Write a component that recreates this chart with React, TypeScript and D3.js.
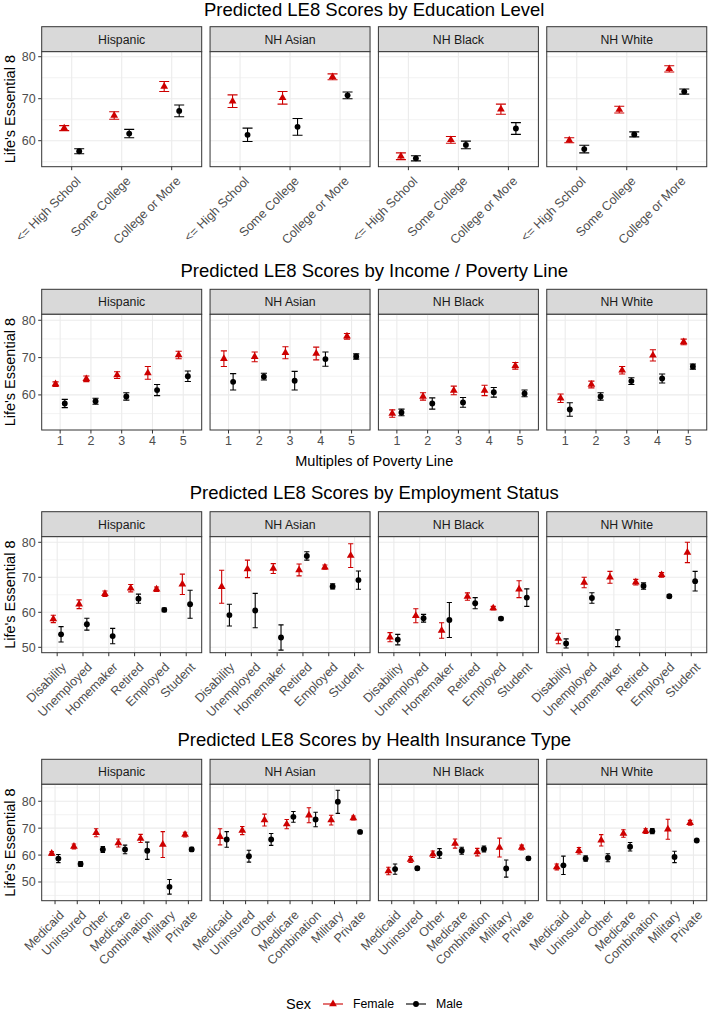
import React from "react";
import * as d3 from "d3";

// ---------- data ----------
const groups = ["Hispanic", "NH Asian", "NH Black", "NH White"];
const sexLabels = ["Female", "Male"];

const eduCats = ["<= High School", "Some College", "College or More"];
const eduFemale = [[63.0, 66.0, 72.9], [69.4, 70.2, 75.2], [56.3, 60.2, 67.5], [60.1, 67.4, 77.1]];
const eduFemaleErr = [[0.6, 0.9, 1.2], [1.5, 1.5, 0.7], [0.8, 0.8, 1.2], [0.6, 0.8, 0.75]];
const eduMale = [[57.5, 61.7, 67.1], [61.4, 63.3, 70.8], [55.8, 59.0, 62.9], [58.0, 61.5, 71.7]];
const eduMaleErr = [[0.6, 1.0, 1.4], [1.6, 2.0, 0.8], [0.6, 0.9, 1.4], [0.9, 0.6, 0.6]];

const incCats = ["1", "2", "3", "4", "5"];
const incFemale = [[62.9, 64.3, 65.3, 65.9, 70.7], [69.7, 70.2, 71.3, 71.1, 75.7], [55.0, 59.6, 61.2, 61.2, 67.8], [59.1, 62.8, 66.6, 70.6, 74.2]];
const incFemaleErr = [[0.6, 0.75, 0.9, 1.7, 1.0], [2.1, 1.3, 1.6, 1.7, 0.75], [1.0, 1.0, 1.15, 1.4, 0.9], [1.15, 0.9, 1.0, 1.5, 0.75]];
const incMale = [[57.7, 58.3, 59.6, 61.3, 65.0], [63.5, 64.9, 63.8, 69.6, 70.3], [55.3, 57.7, 58.0, 60.7, 60.4], [56.1, 59.6, 63.7, 64.4, 67.6]];
const incMaleErr = [[1.1, 0.8, 1.0, 1.5, 1.4], [2.2, 0.9, 2.5, 1.9, 0.7], [0.9, 1.5, 1.3, 1.3, 0.9], [1.8, 1.0, 0.9, 1.2, 0.7]];

const empCats = ["Disability", "Unemployed", "Homemaker", "Retired", "Employed", "Student"];
const empFemale = [[58.1, 62.3, 65.3, 66.9, 66.6, 68.0], [67.3, 72.4, 72.5, 72.1, 72.9, 76.2], [52.9, 59.0, 54.8, 64.5, 61.2, 66.6], [52.5, 68.5, 70.0, 68.6, 70.7, 77.1]];
const empFemaleErr = [[1.05, 1.25, 0.8, 1.05, 0.65, 2.9], [4.7, 2.5, 1.4, 1.7, 0.6, 3.4], [1.3, 2.0, 2.2, 1.05, 0.5, 2.4], [1.5, 1.5, 1.7, 0.8, 0.65, 2.9]];
const empMale = [[53.7, 56.6, 53.2, 63.9, 60.7, 62.3], [59.2, 60.5, 52.8, 76.1, 67.4, 69.2], [52.2, 58.3, 57.8, 62.6, 58.2, 64.2], [51.1, 64.1, 52.6, 67.5, 64.6, 68.9]];
const empMaleErr = [[2.2, 1.7, 2.2, 1.3, 0.55, 4.0], [3.1, 4.9, 3.6, 1.2, 0.75, 2.6], [1.5, 1.1, 5.0, 1.6, 0.4, 2.5], [1.3, 1.5, 2.4, 0.9, 0.4, 2.8]];

const insCats = ["Medicaid", "Uninsured", "Other", "Medicare", "Combination", "Military", "Private"];
const insFemale = [[60.6, 63.2, 68.3, 64.5, 66.2, 63.9, 67.6], [66.8, 69.1, 73.0, 71.5, 74.8, 73.0, 73.8], [54.1, 58.4, 60.3, 64.3, 61.1, 62.8, 62.8], [55.6, 61.6, 65.5, 68.0, 68.9, 69.6, 72.0]];
const insFemaleErr = [[0.7, 0.9, 1.5, 1.5, 1.5, 4.8, 0.9], [3.0, 1.5, 2.2, 1.7, 2.8, 1.8, 0.7], [1.4, 1.1, 1.2, 1.7, 1.4, 3.5, 0.9], [1.1, 1.2, 2.1, 1.4, 0.9, 3.7, 0.9]];
const insMale = [[58.7, 56.7, 62.1, 62.1, 61.6, 48.2, 62.1], [65.8, 59.6, 65.8, 74.2, 73.2, 79.8, 68.6], [54.8, 55.1, 60.6, 61.6, 62.3, 55.0, 58.8], [56.2, 58.7, 59.0, 63.1, 68.9, 59.3, 65.4]];
const insMaleErr = [[1.5, 0.9, 1.1, 1.6, 3.2, 2.7, 0.75], [2.9, 2.2, 2.2, 2.0, 2.7, 4.3, 0.5], [1.9, 0.6, 1.8, 1.3, 1.1, 3.2, 0.6], [3.4, 1.0, 1.5, 1.6, 1.0, 2.1, 0.5]];

const titles = [
  "Predicted LE8 Scores by Education Level",
  "Predicted LE8 Scores by Income / Poverty Line",
  "Predicted LE8 Scores by Employment Status",
  "Predicted LE8 Scores by Health Insurance Type",
];
const yTitle = "Life's Essential 8";
const incXTitle = "Multiples of Poverty Line";
const legendTitle = "Sex";

// ---------- layout / style ----------
const W = 709;
const H = 1011;
const FONT = "'Liberation Sans', Arial, sans-serif";
const RED = "#cd0000";
const BLACK = "#000000";
const PANEL_LEFT = 41.7;
const PANEL_W = 160;
const PANEL_GAP = 8.35;
const STRIP_H = 25;
const TICK = 3.5;
const AXIS_FS = 12.5;

type Sec = {
  title: string;
  cats: string[];
  fem: number[][];
  femErr: number[][];
  male: number[][];
  maleErr: number[][];
  titleY: number;
  stripTop: number;
  panelBottom: number;
  yDomain: [number, number];
  yTicks: number[];
  yMinor: number[];
  rotate: boolean;
  xTitle?: string;
};

const sections: Sec[] = [
  { title: titles[0], cats: eduCats, fem: eduFemale, femErr: eduFemaleErr, male: eduMale, maleErr: eduMaleErr,
    titleY: 16, stripTop: 26.7, panelBottom: 166.7, yDomain: [53.81, 81.19], yTicks: [60, 70, 80], yMinor: [55, 65, 75], rotate: true },
  { title: titles[1], cats: incCats, fem: incFemale, femErr: incFemaleErr, male: incMale, maleErr: incMaleErr,
    titleY: 276.5, stripTop: 289.3, panelBottom: 430, yDomain: [50.6, 81.6], yTicks: [60, 70, 80], yMinor: [55, 65, 75], rotate: false, xTitle: incXTitle },
  { title: titles[2], cats: empCats, fem: empFemale, femErr: empFemaleErr, male: empMale, maleErr: empMaleErr,
    titleY: 498.7, stripTop: 511.7, panelBottom: 652.7, yDomain: [48.46, 81.6], yTicks: [50, 60, 70, 80], yMinor: [55, 65, 75], rotate: true },
  { title: titles[3], cats: insCats, fem: insFemale, femErr: insFemaleErr, male: insMale, maleErr: insMaleErr,
    titleY: 746.3, stripTop: 759.3, panelBottom: 900.7, yDomain: [43.05, 86.3], yTicks: [50, 60, 70, 80], yMinor: [45, 55, 65, 75, 85], rotate: true },
];

const triPath = d3.symbol(d3.symbolTriangle, 26)() as string;
const circPath = d3.symbol(d3.symbolCircle, 27)() as string;

function Section({ s, si }: { s: Sec; si: number }) {
  const panelTop = s.stripTop + STRIP_H;
  const y = d3.scaleLinear().domain(s.yDomain).range([s.panelBottom, panelTop]);
  const x = d3.scalePoint<string>().domain(s.cats).range([0, PANEL_W]).padding(0.6);
  const step = x.step();
  const dodge = 0.15 * step;
  const cap = 0.1 * step;
  const areaRight = PANEL_LEFT + 4 * PANEL_W + 3 * PANEL_GAP;
  const centerX = (PANEL_LEFT + areaRight) / 2;
  const panelMid = (panelTop + s.panelBottom) / 2;
  const clipId = `clip-${si}`;

  const series = [
    { vals: s.fem, errs: s.femErr, color: RED, shape: triPath, off: -dodge },
    { vals: s.male, errs: s.maleErr, color: BLACK, shape: circPath, off: dodge },
  ];

  return (
    <g>
      <defs>
        <clipPath id={clipId}>
          <rect x={0} y={panelTop} width={PANEL_W} height={s.panelBottom - panelTop} />
        </clipPath>
      </defs>
      <text x={centerX} y={s.titleY} textAnchor="middle" fontSize={18.5} fill="#000">{s.title}</text>
      <text transform={`translate(14.5,${panelMid}) rotate(-90)`} textAnchor="middle" fontSize={14.5} fill="#000">{yTitle}</text>
      {s.xTitle && (
        <text x={centerX} y={s.panelBottom + 35.5} textAnchor="middle" fontSize={14.5} fill="#000">{s.xTitle}</text>
      )}
      {s.yTicks.map((t) => (
        <g key={`yt${t}`}>
          <line x1={PANEL_LEFT - TICK} x2={PANEL_LEFT} y1={y(t)} y2={y(t)} stroke="#333" strokeWidth={1} />
          <text x={PANEL_LEFT - TICK - 2.5} y={y(t)} dy="0.36em" textAnchor="end" fontSize={AXIS_FS} fill="#4d4d4d">{t}</text>
        </g>
      ))}
      {groups.map((g, gi) => {
        const px = PANEL_LEFT + gi * (PANEL_W + PANEL_GAP);
        return (
          <g key={g} transform={`translate(${px},0)`}>
            <rect x={0} y={s.stripTop} width={PANEL_W} height={STRIP_H} fill="#d9d9d9" stroke="#333" strokeWidth={1} />
            <text x={PANEL_W / 2} y={s.stripTop + STRIP_H / 2} dy="0.36em" textAnchor="middle" fontSize={12.3} fill="#1a1a1a">{g}</text>
            <rect x={0} y={panelTop} width={PANEL_W} height={s.panelBottom - panelTop} fill="#fff" />
            {s.yMinor.map((t) => (
              <line key={`mn${t}`} x1={0} x2={PANEL_W} y1={y(t)} y2={y(t)} stroke="#ebebeb" strokeWidth={0.6} />
            ))}
            {s.yTicks.map((t) => (
              <line key={`mj${t}`} x1={0} x2={PANEL_W} y1={y(t)} y2={y(t)} stroke="#ebebeb" strokeWidth={1.1} />
            ))}
            {s.cats.map((c) => (
              <line key={`vx${c}`} x1={x(c)} x2={x(c)} y1={panelTop} y2={s.panelBottom} stroke="#ebebeb" strokeWidth={1.1} />
            ))}
            <g clipPath={`url(#${clipId})`}>
              {series.map((se, k) =>
                s.cats.map((c, ci) => {
                  const cx = (x(c) as number) + se.off;
                  const v = se.vals[gi][ci];
                  const e = se.errs[gi][ci];
                  return (
                    <g key={`e${k}-${ci}`} stroke={se.color} strokeWidth={1.1} fill="none">
                      <line x1={cx} x2={cx} y1={y(v - e)} y2={y(v + e)} />
                      <line x1={cx - cap} x2={cx + cap} y1={y(v - e)} y2={y(v - e)} />
                      <line x1={cx - cap} x2={cx + cap} y1={y(v + e)} y2={y(v + e)} />
                    </g>
                  );
                })
              )}
              {series.map((se, k) =>
                s.cats.map((c, ci) => {
                  const cx = (x(c) as number) + se.off;
                  const v = se.vals[gi][ci];
                  return <path key={`p${k}-${ci}`} d={se.shape} transform={`translate(${cx},${y(v)})`} fill={se.color} />;
                })
              )}
            </g>
            <rect x={0} y={panelTop} width={PANEL_W} height={s.panelBottom - panelTop} fill="none" stroke="#333" strokeWidth={1} />
            {s.cats.map((c) => (
              <g key={`xt${c}`}>
                <line x1={x(c)} x2={x(c)} y1={s.panelBottom} y2={s.panelBottom + TICK} stroke="#333" strokeWidth={1} />
                {s.rotate ? (
                  <text
                    transform={`translate(${x(c)},${s.panelBottom + TICK + 2}) rotate(-45)`}
                    dy="1.1em"
                    textAnchor="end"
                    fontSize={AXIS_FS}
                    fill="#4d4d4d"
                  >
                    {c}
                  </text>
                ) : (
                  <text x={x(c)} y={s.panelBottom + TICK + 2} dy="0.72em" textAnchor="middle" fontSize={AXIS_FS} fill="#4d4d4d">
                    {c}
                  </text>
                )}
              </g>
            ))}
          </g>
        );
      })}
    </g>
  );
}

export default function App() {
  const ly = 1004;
  return (
    <svg
      width={W}
      height={H}
      viewBox={`0 0 ${W} ${H}`}
      style={{ position: "absolute", left: 0, top: 0, background: "#fff" }}
      fontFamily={FONT}
    >
      <rect x={0} y={0} width={W} height={H} fill="#fff" />
      {sections.map((s, i) => (
        <Section key={i} s={s} si={i} />
      ))}
      <g>
        <text x={286} y={ly} dy="0.36em" fontSize={14.5} fill="#000">{legendTitle}</text>
        <line x1={323} x2={343} y1={ly} y2={ly} stroke={RED} strokeWidth={1.1} />
        <path d={triPath} transform={`translate(333,${ly})`} fill={RED} />
        <text x={353} y={ly} dy="0.36em" fontSize={12.3} fill="#000">{sexLabels[0]}</text>
        <line x1={406} x2={426} y1={ly} y2={ly} stroke={BLACK} strokeWidth={1.1} />
        <path d={circPath} transform={`translate(416,${ly})`} fill={BLACK} />
        <text x={436} y={ly} dy="0.36em" fontSize={12.3} fill="#000">{sexLabels[1]}</text>
      </g>
    </svg>
  );
}
